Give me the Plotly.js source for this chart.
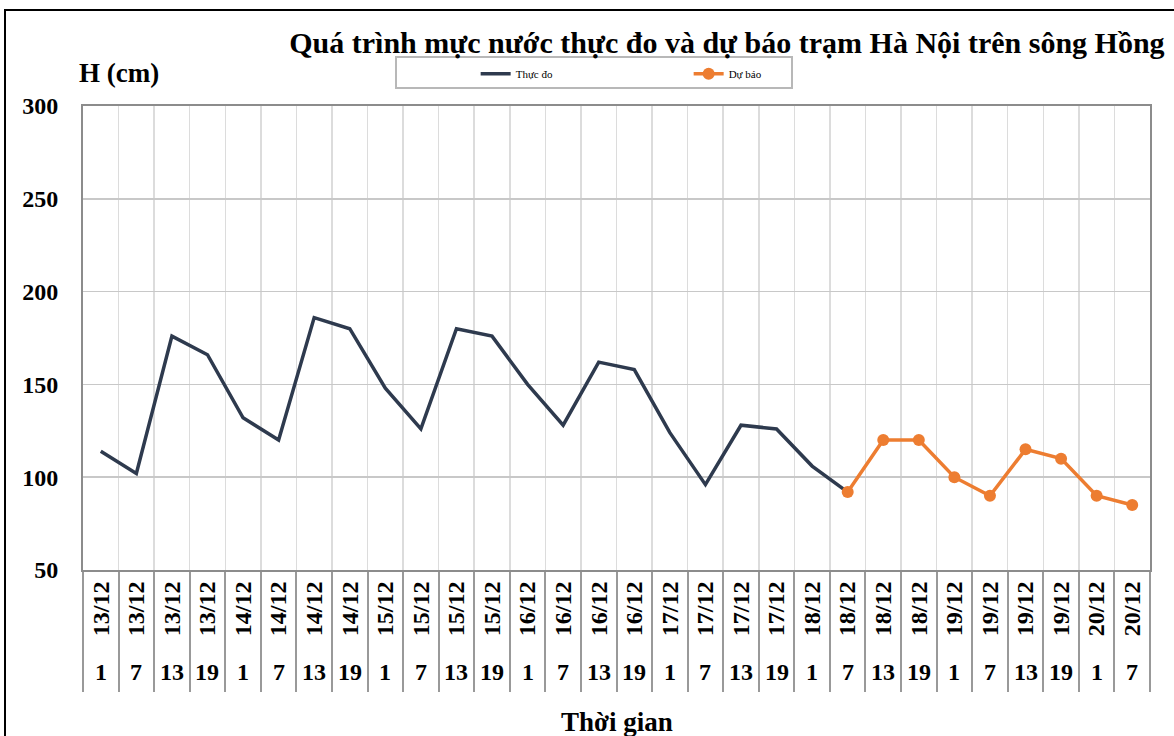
<!DOCTYPE html>
<html>
<head>
<meta charset="utf-8">
<script src="https://cdn.plot.ly/plotly-3.0.1.min.js"></script>
<style>html,body{margin:0;padding:0;background:#fff;}#chart{width:1174px;height:736px;}</style>
</head>
<body>
<div id="chart"></div>
<script>
const dates = ["13/12","13/12","13/12","13/12","14/12","14/12","14/12","14/12","15/12","15/12","15/12","15/12","16/12","16/12","16/12","16/12","17/12","17/12","17/12","17/12","18/12","18/12","18/12","18/12","19/12","19/12","19/12","19/12","20/12","20/12"];
const hours = ["1","7","13","19","1","7","13","19","1","7","13","19","1","7","13","19","1","7","13","19","1","7","13","19","1","7","13","19","1","7"];
const observed = [114,102,176,166,132,120,186,180,148,126,180,176,150,128,162,158,124,96,128,126,106,92];
const forecast = [92,120,120,100,90,115,110,90,85];
const forecastStart = 21;
const seriesNames = ["Thực đo","Dự báo"];
const titleText = "Quá trình mực nước thực đo và dự báo trạm Hà Nội trên sông Hồng";
const yTitle = "H (cm)";
const xTitle = "Thời gian";

const idx = dates.map((d,i)=>i);
const FONT = "Liberation Serif, Times New Roman, serif";

const traces = [
  {x: observed.map((v,i)=>i), y: observed, name: seriesNames[0], type:'scatter', mode:'lines',
   line:{color:'#2e3a4e', width:3.5}},
  {x: forecast.map((v,i)=>i+forecastStart), y: forecast, name: seriesNames[1], type:'scatter', mode:'lines+markers',
   line:{color:'#ed7d31', width:3.5}, marker:{color:'#ed7d31', size:12}}
];

const annotations = hours.map((h,i)=>({
  x:i, xref:'x', y:-0.22, yref:'paper', text:h, showarrow:false,
  font:{family:FONT, size:24, color:'#000', weight:700}, yanchor:'middle'
}));
annotations.push({x:-0.006, xref:'paper', xanchor:'left', y:1.071, yref:'paper', yanchor:'middle',
  text:yTitle, showarrow:false, font:{family:FONT, size:27, color:'#000', weight:700}});
annotations.push({x:0.5, xref:'paper', xanchor:'center', y:-0.3276, yref:'paper', yanchor:'middle',
  text:xTitle, showarrow:false, font:{family:FONT, size:27, color:'#000', weight:700}});

const layout = {
  width:1174, height:736,
  margin:{l:83, r:24, t:106, b:166},
  paper_bgcolor:'#fff', plot_bgcolor:'#fff',
  font:{family:FONT, color:'#000'},
  title:{text:titleText, x:0.992, xanchor:'right', xref:'container', y:0.942, yanchor:'middle', yref:'container',
    font:{family:FONT, size:30, color:'#000', weight:700}},
  showlegend:true,
  legend:{orientation:'h', x:0.368, xanchor:'left', y:1.101, yanchor:'top',
    borderwidth:0, bgcolor:'rgba(0,0,0,0)', entrywidth:168,
    font:{family:FONT, size:11, color:'#000'}},
  xaxis:{range:[-0.5,29.5], tickmode:'array', tickvals:idx, ticktext:dates, tickangle:-90,
    ticks:'', showgrid:false, zeroline:false, showline:true, linecolor:'#8c8c8c', linewidth:2, mirror:true,
    tickfont:{family:FONT, size:24, color:'#000', weight:700},
    minor:{tickmode:'linear', tick0:-0.5, dtick:1, ticks:'outside', ticklen:120, tickcolor:'#999', tickwidth:2,
      showgrid:true, gridcolor:'#dcdcdc', gridwidth:1.5}},
  yaxis:{range:[50,300], dtick:50, tick0:50, showgrid:true, gridcolor:'#c8c8c8', gridwidth:1.5, zeroline:false,
    showline:true, linecolor:'#8c8c8c', linewidth:2, mirror:true, ticks:'', ticklabelstandoff:18,
    tickfont:{family:FONT, size:24, color:'#000', weight:700}},
  annotations: annotations,
  shapes:[
    {type:'rect', xref:'paper', yref:'paper', x0:-0.0731, x1:1.03, y0:-0.4, y1:1.2069,
     line:{color:'#000', width:2}, fillcolor:'rgba(0,0,0,0)', layer:'below'},
    {type:'rect', xref:'paper', yref:'paper', x0:(396-83)/1067, x1:(792-83)/1067, y0:(570-88)/464, y1:(570-57)/464,
     line:{color:'#b8b8b8', width:2}, fillcolor:'#fff', layer:'above'}
  ]
};

Plotly.newPlot('chart', traces, layout, {displayModeBar:false, staticPlot:true});
</script>
</body>
</html>
